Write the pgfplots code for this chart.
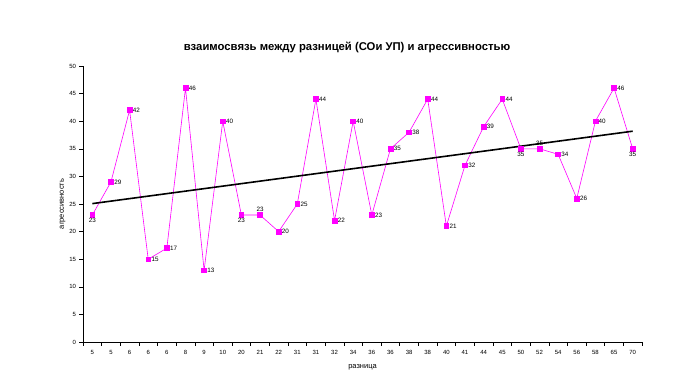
\documentclass[border=0pt]{standalone}
\usepackage{fontspec}
\setmainfont{Liberation Sans}
\usepackage{pgfplots}
\pgfplotsset{compat=1.18}
\definecolor{mag}{RGB}{255,0,255}
\begin{document}
\begin{tikzpicture}[x=1pt,y=1pt]
\begin{axis}[
  at={(0pt,0pt)}, anchor=south west,
  scale only axis, width=559pt, height=276pt,
  xmin=-0.5, xmax=29.5, ymin=0, ymax=50,
  axis x line=bottom, axis y line=left,
  axis line style={-, line width=0.8pt},
  tick align=outside,
  /pgf/number format/assume math mode=true,
  ytick={0,5,...,50},
  yticklabel style={font=\fontsize{6}{7}\selectfont},
  major tick length=3.5pt,
  tick style={black, line width=0.6pt},
  xtick={-0.5,0.5,...,29.5},
  xticklabels={},
  extra x ticks={0,1,...,29},
  extra x tick labels={5,5,6,6,6,8,9,10,20,21,22,31,31,32,34,36,36,38,38,40,41,44,45,50,52,54,56,58,65,70},
  extra x tick style={major tick length=0pt, xticklabel style={font=\fontsize{6}{7}\selectfont, yshift=-5pt}},
  xlabel={разница}, ylabel={агрессивность},
  xlabel style={font=\fontsize{7.5}{8}\selectfont, yshift=1pt},
  ylabel style={font=\fontsize{7.5}{8}\selectfont, yshift=-3pt},
  clip=false,
]
\addplot[mag, line width=0.6pt, mark=square*, mark size=2.4pt, mark options={solid, fill=mag, draw=mag},
  nodes near coords, point meta=explicit,
  visualization depends on={value \thisrow{a}\as\myanchor},
  every node near coord/.append style={anchor=\myanchor, inner sep=3pt, black, font=\fontsize{6.3}{7}\selectfont}]
  table[x=x, y=y, meta=y] {
x y a
0 23 90
1 29 180
2 42 180
3 15 180
4 17 180
5 46 180
6 13 180
7 40 180
8 23 90
9 23 270
10 20 180
11 25 180
12 44 180
13 22 180
14 40 180
15 23 180
16 35 180
17 38 180
18 44 180
19 21 180
20 32 180
21 39 180
22 44 180
23 35 90
24 35 270
25 34 180
26 26 180
27 40 180
28 46 180
29 35 90
};
\addplot[black, line width=1.6pt, no marks] coordinates {(0,25.07) (29,38.19)};
\end{axis}
\node[font=\bfseries\fontsize{11.3}{13}\selectfont] at (264pt,295pt) {взаимосвязь между разницей (СОи УП) и агрессивностью};
\useasboundingbox (-83pt,-49pt) rectangle (610pt,342pt);
\end{tikzpicture}
\end{document}
